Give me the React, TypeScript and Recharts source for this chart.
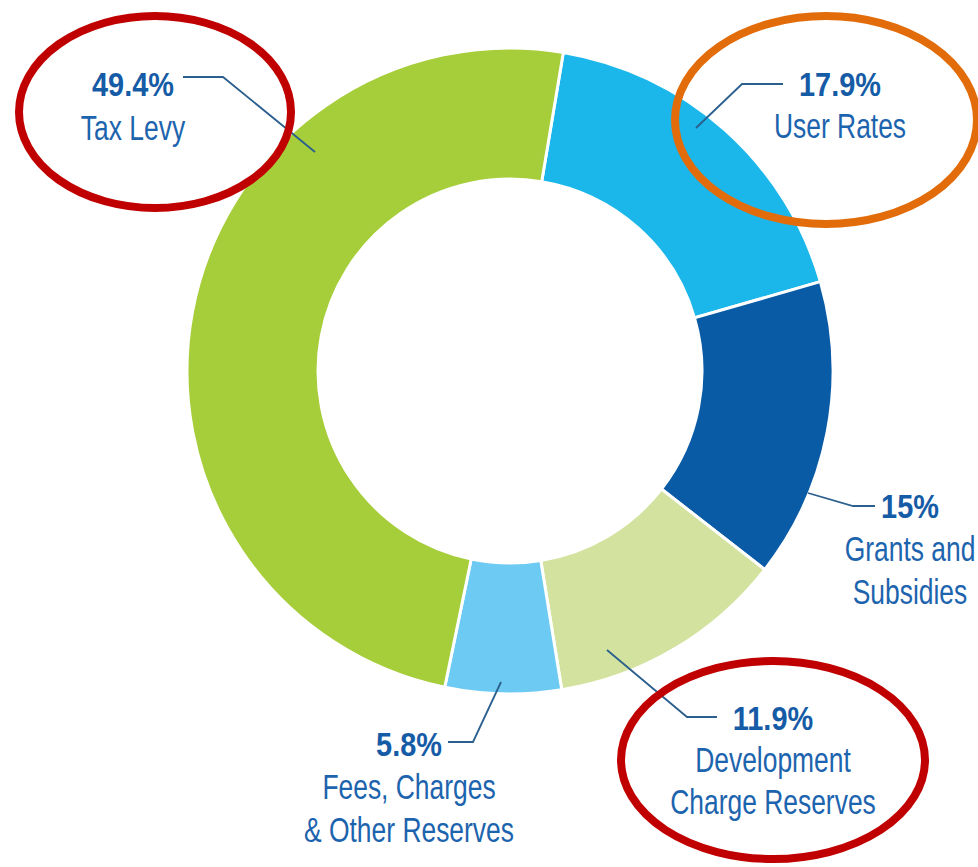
import React from "react";
import { Cell, Pie, PieChart } from "recharts";

// slices in clockwise order, starting just right of 12 o'clock
const sources = ["User Rates", "Grants and Subsidies", "Development Charge Reserves", "Fees, Charges & Other Reserves", "Tax Levy"];
const shares = [17.9, 15, 11.9, 5.8, 49.4];
const shareLabels = ["17.9%", "15%", "11.9%", "5.8%", "49.4%"];
const nameLines = [["User Rates"], ["Grants and", "Subsidies"], ["Development", "Charge Reserves"], ["Fees, Charges", "& Other Reserves"], ["Tax Levy"]];

const COLORS = ["#1bb6ea", "#0a5ba6", "#d3e39f", "#6dcaf2", "#a6cd3a"];
const TEXT = "#1d64ae";
const LEADER = "#2b5f8e";
// no condensed face installed, so squeeze an Arial-metric font horizontally
const FONT = '"Liberation Sans", Arial, sans-serif';

// label placement relative to the pie centre: leader start, elbow, end, text
type Layout = {
  start: [number, number];
  elbow: [number, number];
  end: [number, number];
  textX: number;
  firstBaseline: number;
  lineGap: number;
  ring?: { dx: number; dy: number; rx: number; ry: number; color: string };
};

const layouts: Layout[] = [
  { start: [186, -243], elbow: [232, -287], end: [273, -287], textX: 330, firstBaseline: -275, lineGap: 42,
    ring: { dx: 316, dy: -251, rx: 151, ry: 104, color: "#e36c0a" } },
  { start: [298, 122], elbow: [343, 135], end: [365, 135], textX: 400, firstBaseline: 147, lineGap: 43 },
  { start: [97, 279], elbow: [177, 346], end: [207, 346], textX: 263, firstBaseline: 359, lineGap: 42,
    ring: { dx: 263, dy: 389, rx: 152, ry: 99, color: "#c00000" } },
  { start: [-9, 311], elbow: [-37, 371], end: [-62, 371], textX: -101, firstBaseline: 385, lineGap: 43 },
  { start: [-195, -219], elbow: [-287, -294], end: [-327, -294], textX: -377, firstBaseline: -275, lineGap: 44,
    ring: { dx: -355, dy: -259, rx: 136, ry: 96, color: "#c00000" } },
];

const Squeezed = ({ x, y, sx, children, ...rest }: any) => (
  <text transform={`translate(${x},${y}) scale(${sx},1)`} textAnchor="middle" fontFamily={FONT} {...rest}>
    {children}
  </text>
);

const renderLabel = (props: any) => {
  const { cx, cy, index } = props;
  const l = layouts[index];
  const pts = [l.start, l.elbow, l.end].map(([x, y]) => `${cx + x},${cy + y}`).join(" ");
  return (
    <g key={`lbl-${index}`}>
      <polyline points={pts} fill="none" stroke={LEADER} strokeWidth={1.8} />
      <Squeezed x={cx + l.textX} y={cy + l.firstBaseline} sx={0.85} fontWeight="bold" fontSize={34} fill="#155ba6">
        {shareLabels[index]}
      </Squeezed>
      {nameLines[index].map((line, i) => (
        <Squeezed
          key={line}
          x={cx + l.textX}
          y={cy + l.firstBaseline + l.lineGap * (i + 1)}
          sx={0.755}
          fontSize={35}
          fill={TEXT}
        >
          {line}
        </Squeezed>
      ))}
      {l.ring && (
        <ellipse
          cx={cx + l.ring.dx}
          cy={cy + l.ring.dy}
          rx={l.ring.rx}
          ry={l.ring.ry}
          fill="none"
          stroke={l.ring.color}
          strokeWidth={8}
        />
      )}
    </g>
  );
};

const App: React.FC = () => {
  const chartData = sources.map((name, i) => ({ name, value: shares[i] }));

  return (
    <div style={{ position: "absolute", left: 0, top: 0, background: "#fff" }}>
      <PieChart width={978} height={867}>
        <Pie
          data={chartData}
          dataKey="value"
          nameKey="name"
          cx={505}
          cy={366}
          innerRadius={192}
          outerRadius={323}
          startAngle={80.5}
          endAngle={-279.5}
          stroke="#ffffff"
          strokeWidth={3}
          labelLine={false}
          label={renderLabel}
          isAnimationActive={false}
        >
          {chartData.map((entry, i) => (
            <Cell key={entry.name} fill={COLORS[i]} />
          ))}
        </Pie>
      </PieChart>
    </div>
  );
};

export default App;
